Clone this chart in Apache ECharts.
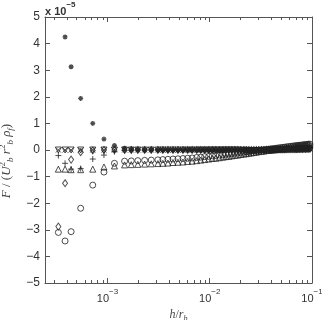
<!DOCTYPE html>
<html>
<head>
<meta charset="utf-8">
<script src="https://cdn.jsdelivr.net/npm/echarts@6/dist/echarts.min.js"></script>
<style>
  html, body { margin: 0; padding: 0; background: #fff; }
  #chart { width: 322px; height: 320px; }
</style>
</head>
<body>
<div id="chart"></div>
<script>
// h / r_b (x positions)
var hRatio = [
  3.31e-4, 3.85e-4, 4.41e-4, 5.47e-4, 7.18e-4, 9.24e-4, 1.17e-3, 1.47e-3, 1.71e-3, 1.98e-3,
  2.31e-3, 2.68e-3, 3.11e-3, 3.48e-3, 3.90e-3, 4.37e-3, 4.89e-3, 5.47e-3, 6.08e-3, 6.73e-3,
  7.46e-3, 8.17e-3, 8.93e-3, 9.77e-3, 1.058e-2, 1.145e-2, 1.240e-2, 1.341e-2, 1.435e-2, 1.536e-2,
  1.643e-2, 1.758e-2, 1.881e-2, 2.013e-2, 2.154e-2, 2.279e-2, 2.412e-2, 2.551e-2, 2.700e-2, 2.857e-2,
  3.022e-2, 3.198e-2, 3.384e-2, 3.580e-2, 3.788e-2, 3.963e-2, 4.146e-2, 4.338e-2, 4.539e-2, 4.749e-2,
  4.968e-2, 5.198e-2, 5.438e-2, 5.689e-2, 5.952e-2, 6.228e-2, 6.515e-2, 6.813e-2, 7.047e-2, 7.290e-2,
  7.542e-2, 7.802e-2, 8.070e-2, 8.349e-2, 8.636e-2, 8.933e-2, 9.241e-2, 9.559e-2
]

// F / (U_b^2 r_b^2 rho_f), units of 1e-5
var starVals = [
  5.6, 4.25, 3.13, 1.94, 1.00, 0.41, 0.17, 0.07, 0.03, 0.02,
  0.01, 0.01, 0, 0, 0, 0, 0, 0, 0, 0,
  0, 0, 0, 0, 0, 0, 0, 0, 0, 0,
  0, 0, 0, 0, 0, 0, 0, 0, 0.01, 0.01,
  0.01, 0.01, 0.02, 0.02, 0.02, 0.03, 0.03, 0.03, 0.04, 0.04,
  0.04, 0.05, 0.05, 0.05, 0.06, 0.06, 0.06, 0.07, 0.07, 0.07,
  0.08, 0.08, 0.08, 0.09, 0.09, 0.09, 0.10, 0.10
]
var plusVals = [
  -0.21, -0.50, -0.72, -0.70, -0.34, -0.19, -0.06, -0.02, -0.01, 0,
  0, 0, 0, 0, 0, 0, 0, 0, 0, 0,
  0, 0, 0, 0, 0, 0, 0, 0, 0, 0,
  0, 0, 0, 0, 0, 0, 0, 0, 0, 0.01,
  0.01, 0.01, 0.01, 0.02, 0.02, 0.02, 0.02, 0.03, 0.03, 0.03,
  0.03, 0.04, 0.04, 0.04, 0.04, 0.05, 0.05, 0.05, 0.05, 0.06,
  0.06, 0.06, 0.06, 0.07, 0.07, 0.07, 0.07, 0.08
]
var diamondVals = [
  -2.88, -1.25, -0.36, -0.08, -0.02, 0, 0, 0, 0, 0,
  0, 0, 0, 0, 0, 0, 0, 0, 0, 0,
  0, 0, 0, 0, 0, 0, 0, 0, 0, 0,
  0, 0, 0, 0, 0, 0, 0, 0, 0, 0,
  0, 0, 0, 0.01, 0.01, 0.01, 0.01, 0.01, 0.02, 0.02,
  0.02, 0.02, 0.02, 0.03, 0.03, 0.03, 0.03, 0.03, 0.04, 0.04,
  0.04, 0.04, 0.04, 0.05, 0.05, 0.05, 0.05, 0.05
]
var downTriVals = [
  0, 0, 0, 0, 0, 0, 0, 0, 0, 0,
  0, 0, 0, 0, 0, 0, 0, 0, 0, 0,
  0, 0, 0, 0, 0, 0, 0, 0, 0, 0,
  0, 0, 0, -0.01, -0.01, -0.01, -0.02, -0.02, -0.02, -0.02,
  -0.02, -0.02, -0.02, -0.02, -0.02, -0.01, -0.01, -0.01, -0.01, 0,
  0, 0, 0, 0, 0.01, 0.01, 0.01, 0.01, 0.01, 0.01,
  0.02, 0.02, 0.02, 0.02, 0.02, 0.02, 0.03, 0.03
]
var crossVals = [
  0, 0, 0, 0, 0, 0, 0, 0, 0, 0,
  0, 0, 0, 0, 0, 0, 0, 0, 0, 0,
  0, 0, 0, 0, 0, 0, 0, 0, 0, 0,
  0, 0, 0, 0, 0, 0, -0.01, -0.01, -0.01, -0.01,
  -0.01, -0.01, -0.01, -0.01, 0, 0, 0, 0, 0, 0.01,
  0.01, 0.01, 0.01, 0.01, 0.02, 0.02, 0.02, 0.02, 0.02, 0.03,
  0.03, 0.03, 0.03, 0.03, 0.04, 0.04, 0.04, 0.04
]
var circleVals = [
  -3.10, -3.42, -3.07, -2.19, -1.32, -0.83, -0.50, -0.42, -0.41, -0.40,
  -0.39, -0.38, -0.37, -0.36, -0.35, -0.34, -0.33, -0.32, -0.31, -0.30,
  -0.28, -0.27, -0.25, -0.24, -0.22, -0.21, -0.19, -0.18, -0.16, -0.15,
  -0.14, -0.12, -0.11, -0.09, -0.08, -0.07, -0.06, -0.04, -0.03, -0.02,
  -0.01, 0.00, 0.01, 0.02, 0.03, 0.04, 0.05, 0.06, 0.07, 0.08,
  0.09, 0.10, 0.11, 0.12, 0.13, 0.14, 0.15, 0.16, 0.16, 0.17,
  0.18, 0.18, 0.19, 0.20, 0.20, 0.21, 0.22, 0.22
]
var triangleVals = [
  -0.72, -0.72, -0.74, -0.74, -0.72, -0.64, -0.60, -0.56, -0.55, -0.54,
  -0.53, -0.52, -0.51, -0.50, -0.49, -0.47, -0.46, -0.45, -0.43, -0.42,
  -0.40, -0.38, -0.36, -0.34, -0.32, -0.31, -0.29, -0.27, -0.25, -0.24,
  -0.22, -0.20, -0.19, -0.17, -0.15, -0.14, -0.12, -0.11, -0.09, -0.08,
  -0.06, -0.05, -0.04, -0.02, -0.01, 0.00, 0.01, 0.02, 0.03, 0.04,
  0.05, 0.06, 0.07, 0.08, 0.09, 0.10, 0.11, 0.12, 0.12, 0.13,
  0.14, 0.14, 0.15, 0.16, 0.16, 0.17, 0.18, 0.18
]

// axis ranges and ticks
var xMin = 2.45e-4
var xMax = 0.1
var yMin = -5
var yMax = 5
var minorTicks = [
  3e-4, 4e-4, 5e-4, 6e-4, 7e-4, 8e-4, 9e-4,
  2e-3, 3e-3, 4e-3, 5e-3, 6e-3, 7e-3, 8e-3, 9e-3,
  2e-2, 3e-2, 4e-2, 5e-2, 6e-2, 7e-2, 8e-2, 9e-2
]

var ink = '#222'
var textInk = '#333'
var boxColor = '#555'
var sansFont = 'Liberation Sans, Arial, sans-serif'
var serifFont = 'Liberation Serif, Times New Roman, serif'

var myChart = echarts.init(document.getElementById('chart'))

function pairs(vals) {
  var out = []
  for (var i = 0; i < hRatio.length; i++) {
    if (vals[i] === null || vals[i] === undefined) continue
    out.push([hRatio[i], vals[i]])
  }
  return out
}

function markers(name, vals, symbol, extra) {
  var s = {
    name: name,
    type: 'scatter',
    clip: true,
    xAxisIndex: 0,
    yAxisIndex: 0,
    symbol: symbol,
    symbolSize: 6,
    itemStyle: { color: 'rgba(0,0,0,0)', borderColor: ink, borderWidth: 1 },
    data: pairs(vals)
  }
  return Object.assign(s, extra || {})
}

// helper axis: minor ticks (log positions on a linear axis)
function minorAxis(position) {
  return {
    type: 'value',
    position: position,
    min: Math.log10(xMin),
    max: Math.log10(xMax),
    axisLine: { show: false, onZero: false },
    axisLabel: { show: false },
    splitLine: { show: false },
    axisTick: {
      show: true, inside: true, length: 3,
      customValues: minorTicks.map(function (v) { return Math.log10(v) }),
      lineStyle: { color: boxColor, width: 1 }
    }
  }
}

function expLabel(v) {
  var e = Math.round(Math.log10(v))
  if (Math.abs(Math.log10(v) - e) > 1e-6) return ''
  return '{b|10}{e|' + (e < 0 ? '\u2212' + (-e) : e) + '}'
}

var option = {
  animation: false,
  backgroundColor: '#fff',
  title: {
    text: '{a|x 10}{e|\u22125}',
    left: 45,
    top: 1,
    padding: 0,
    textStyle: {
      rich: {
        a: { fontFamily: sansFont, fontSize: 11, color: textInk, lineHeight: 16, verticalAlign: 'bottom' },
        e: { fontFamily: sansFont, fontSize: 8, color: textInk, lineHeight: 10, verticalAlign: 'top' }
      }
    }
  },
  grid: { left: 45, right: 10, top: 17, bottom: 37, containLabel: false, outerBoundsMode: 'none' },
  xAxis: [
    {
      type: 'log',
      min: xMin,
      max: xMax,
      name: '{i|h}{n|/}{i|r}{s|b}',
      nameLocation: 'middle',
      nameGap: 21,
      nameTextStyle: {
        rich: {
          i: { fontFamily: serifFont, fontStyle: 'italic', fontSize: 12, color: '#444', lineHeight: 14, verticalAlign: 'top' },
          n: { fontFamily: serifFont, fontSize: 12, color: '#444', lineHeight: 14, verticalAlign: 'top' },
          s: { fontFamily: serifFont, fontStyle: 'italic', fontSize: 8, color: '#444', lineHeight: 8, verticalAlign: 'bottom' }
        }
      },
      axisLine: { show: true, onZero: false, lineStyle: { color: boxColor, width: 1 } },
      axisTick: { show: true, inside: true, length: 5, lineStyle: { color: boxColor } },
      splitLine: { show: false },
      axisLabel: {
        margin: 5,
        formatter: expLabel,
        rich: {
          b: { fontFamily: sansFont, fontSize: 11, color: textInk, lineHeight: 16, verticalAlign: 'bottom' },
          e: { fontFamily: sansFont, fontSize: 8, color: textInk, lineHeight: 10, verticalAlign: 'top' }
        }
      }
    },
    {
      type: 'log',
      position: 'top',
      min: xMin,
      max: xMax,
      axisLine: { show: true, onZero: false, lineStyle: { color: boxColor, width: 1 } },
      axisTick: { show: true, inside: true, length: 5, lineStyle: { color: boxColor } },
      axisLabel: { show: false },
      splitLine: { show: false }
    },
    minorAxis('bottom'),
    minorAxis('top')
  ],
  yAxis: [
    {
      type: 'value',
      min: yMin,
      max: yMax,
      interval: 1,
      name: '{i|F}{n| / (}{i|U}{p|2}{s|b}{i| r}{p|2}{s|b}{i| \u03c1}{s|f}{n|)}',
      nameLocation: 'middle',
      nameRotate: 90,
      nameGap: 24,
      nameTextStyle: {
        padding: [0, 22, 0, 0],
        rich: {
          i: { fontFamily: serifFont, fontStyle: 'italic', fontSize: 13, color: '#444', lineHeight: 17 },
          n: { fontFamily: serifFont, fontSize: 13, color: '#444', lineHeight: 17 },
          p: { fontFamily: serifFont, fontSize: 9, color: '#444', lineHeight: 9, verticalAlign: 'top' },
          s: { fontFamily: serifFont, fontStyle: 'italic', fontSize: 9, color: '#444', lineHeight: 9, verticalAlign: 'bottom' }
        }
      },
      axisLine: { show: true, onZero: false, lineStyle: { color: boxColor, width: 1 } },
      axisTick: { show: true, inside: true, length: 5, lineStyle: { color: boxColor } },
      splitLine: { show: false },
      axisLabel: {
        margin: 5, fontFamily: sansFont, fontSize: 12, color: textInk,
        formatter: function (v) { return v < 0 ? '\u2212' + (-v) : String(v) }
      }
    },
    {
      type: 'value',
      position: 'right',
      min: yMin,
      max: yMax,
      interval: 1,
      axisLine: { show: true, onZero: false, lineStyle: { color: boxColor, width: 1 } },
      axisTick: { show: true, inside: true, length: 5, lineStyle: { color: boxColor } },
      axisLabel: { show: false },
      splitLine: { show: false }
    }
  ],
  series: [
    markers('circle', circleVals, 'circle'),
    markers('triangle', triangleVals, 'triangle'),
    markers('downTri', downTriVals, 'triangle', { symbolRotate: 180 }),
    markers('cross', crossVals, 'path://M-5,-5L5,5M-5,5L5,-5', { symbolSize: 5 }),
    markers('diamond', diamondVals, 'diamond', { symbolSize: [5, 7] }),
    markers('plus', plusVals, 'path://M0,-5L0,5M-5,0L5,0'),
    markers('star', starVals, 'path://M0,-5L0,5M-5,0L5,0M-3.5,-3.5L3.5,3.5M-3.5,3.5L3.5,-3.5', { symbolSize: 5, itemStyle: { color: 'rgba(0,0,0,0)', borderColor: ink, borderWidth: 1.3 } })
  ]
}

myChart.setOption(option)
</script>
</body>
</html>
